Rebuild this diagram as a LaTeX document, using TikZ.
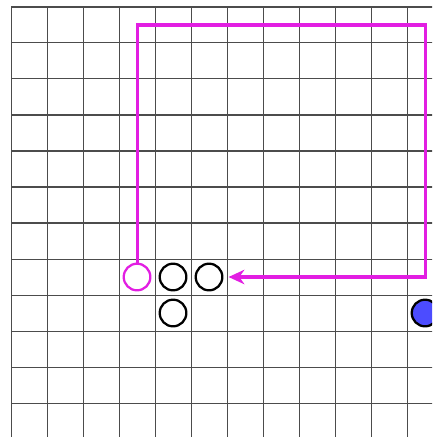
\documentclass[tikz,border=0pt]{standalone}
\usepackage{tikz}
\usetikzlibrary{arrows.meta}

\definecolor{pathmag}{RGB}{226,30,226}
\definecolor{stoneblue}{RGB}{76,76,255}

\begin{document}
\begin{tikzpicture}[line width=1pt,
  gridline/.style={line width=0.8pt,black!70},
  ring/.style={circle,draw,line width=1.8pt,minimum size=7.4mm,inner sep=0pt},
  trail/.style={line width=2.4pt,pathmag,-{Stealth[length=4.4mm,width=4mm,inset=1.4mm]}}]
  \useasboundingbox (-0.306,0.194) rectangle (11.694,-11.944);
  \clip (-0.306,0.194) rectangle (11.694,-11.944);
  % grid
  \draw[gridline] (0,-12) grid (12,0);
  % stones
  \node[ring,draw=pathmag] (start) at (3.5,-7.5) {};
  \node[ring] (ringa) at (4.5,-7.5) {};
  \node[ring] (ringb) at (5.5,-7.5) {};
  \node[ring] (ringc) at (4.5,-8.5) {};
  \node[ring,fill=stoneblue] (blue) at (11.5,-8.5) {};
  % route
  \coordinate (cornerl) at (3.5,-0.5);
  \coordinate (cornerr) at (11.5,-0.5);
  \draw[trail,shorten >=1.4mm] (start.north) -- (cornerl) -- (cornerr) |- (ringb.east);
\end{tikzpicture}
\end{document}
